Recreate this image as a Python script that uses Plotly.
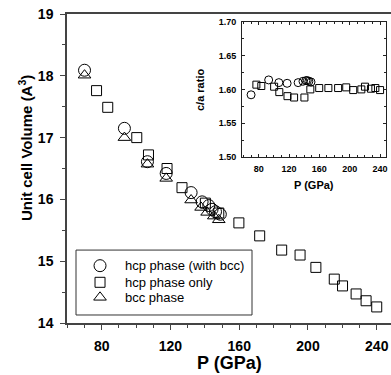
import plotly.graph_objects as go

# ---- data ----
p_hcp_bcc = [70, 93.2, 106.6, 117.5, 132, 138.4, 142.3, 144.2, 146.2, 149]
v_hcp_bcc = [18.09, 17.15, 16.61, 16.42, 16.11, 15.96, 15.90, 15.84, 15.80, 15.76]
ca_hcp_bcc = [1.592, 1.614, 1.610, 1.609, 1.610, 1.612, 1.613, 1.613, 1.612, 1.611]

p_hcp = [77, 83.5, 100.4, 107.2, 118, 126.7, 140.3, 148.1, 159.8, 171.9,
         184.7, 195.4, 204.6, 215.3, 220.1, 228, 233.8, 240]
v_hcp = [17.76, 17.49, 17.00, 16.72, 16.50, 16.19, 15.94, 15.78, 15.62, 15.41,
         15.18, 15.10, 14.90, 14.71, 14.60, 14.47, 14.36, 14.26]
ca_hcp = [1.607, 1.605, 1.604, 1.596, 1.590, 1.588, 1.588, 1.600, 1.602, 1.602,
          1.602, 1.603, 1.599, 1.600, 1.604, 1.601, 1.602, 1.599]

p_bcc = [70, 93.2, 106.6, 117.5, 132, 137.8, 141.3, 145.2, 148.1]
v_bcc = [18.01, 17.00, 16.57, 16.34, 15.99, 15.87, 15.79, 15.73, 15.67]

names = ["hcp phase (with bcc)", "hcp phase only", "bcc phase"]
symbols = ["circle-open", "square-open", "triangle-up-open"]
main_sizes = [12, 10, 11]
x_ticks = [80, 120, 160, 200, 240]

FONT = "Liberation Sans"
AX = "#444444"
mk = dict(color="black", width=1)

fig = go.Figure()
for px_, py_, sym, sz, nm in [(p_hcp_bcc, v_hcp_bcc, symbols[0], main_sizes[0], names[0]),
                              (p_hcp, v_hcp, symbols[1], main_sizes[1], names[1]),
                              (p_bcc, v_bcc, symbols[2], main_sizes[2], names[2])]:
    fig.add_trace(go.Scatter(x=px_, y=py_, mode="markers", name=nm, showlegend=False,
                             marker=dict(symbol=sym, size=sz, color="black", line=mk)))

# inset
fig.add_trace(go.Scatter(x=p_hcp_bcc, y=ca_hcp_bcc, mode="markers", showlegend=False,
                         xaxis="x2", yaxis="y2",
                         marker=dict(symbol="circle-open", size=8, color="black", line=mk)))
fig.add_trace(go.Scatter(x=p_hcp, y=ca_hcp, mode="markers", showlegend=False,
                         xaxis="x2", yaxis="y2",
                         marker=dict(symbol="square-open", size=7, color="black", line=mk)))

# hand-drawn legend (symbols on an invisible overlay axis in paper-like units)
leg_x_sym = 0.1019
leg_x_txt = 0.1719
leg_rows = [0.1855, 0.1317, 0.0831]
for sym, sz, yy in zip(symbols, main_sizes, leg_rows):
    fig.add_trace(go.Scatter(x=[leg_x_sym], y=[yy], mode="markers", showlegend=False,
                             xaxis="x3", yaxis="y3", hoverinfo="skip",
                             marker=dict(symbol=sym, size=sz, color="black", line=mk)))

tickfont = dict(family=FONT, size=14, color="black", weight="bold")
inset_font = dict(family=FONT, size=9, color="black", weight="bold")

annotations = [
    dict(text="P (GPa)", xref="paper", yref="paper", x=0.5, y=-0.1294,
         xanchor="center", yanchor="middle", showarrow=False,
         font=dict(family=FONT, size=18, color="black", weight="bold")),
    dict(text="Unit cell Volume (A<sup>3</sup>)", xref="paper", yref="paper",
         x=-0.1296, y=0.566, xanchor="center", yanchor="middle", textangle=-90,
         showarrow=False, font=dict(family=FONT, size=15, color="black", weight="bold")),
    dict(text="c/a ratio", xref="paper", yref="paper", x=0.4105, y=0.754,
         xanchor="center", yanchor="middle", textangle=-90, showarrow=False,
         font=dict(family=FONT, size=11, color="black", weight="bold")),
    dict(text="P (GPa)", xref="paper", yref="paper", x=0.762, y=0.4466,
         xanchor="center", yanchor="middle", showarrow=False,
         font=dict(family=FONT, size=11, color="black", weight="bold")),
]
for nm, yy in zip(names, leg_rows):
    annotations.append(dict(text=nm, xref="paper", yref="paper", x=leg_x_txt, y=yy,
                            xanchor="left", yanchor="middle", showarrow=False,
                            font=dict(family=FONT, size=13, color="black")))

fig.update_layout(
    width=391, height=375,
    margin=dict(l=67, r=0, t=14, b=52),
    paper_bgcolor="white", plot_bgcolor="white",
    font=dict(family=FONT, color="black"),
    showlegend=False,
    xaxis=dict(range=[59.8, 248.3], tickvals=x_ticks, ticks="outside", ticklen=5,
               tickcolor=AX, showline=True, linecolor=AX, linewidth=1.5, mirror=True,
               showgrid=False, zeroline=False, tickfont=tickfont, ticklabelstandoff=4,
               minor=dict(dtick=10, tick0=0, ticks="outside", ticklen=3, tickcolor=AX)),
    yaxis=dict(range=[14, 19], dtick=1, ticks="outside", ticklen=5, tickcolor=AX,
               showline=True, linecolor=AX, linewidth=1.5,
               showgrid=False, zeroline=False, tickfont=tickfont, ticklabelstandoff=4,
               minor=dict(dtick=0.5, ticks="outside", ticklen=3, tickcolor=AX)),
    xaxis2=dict(domain=[0.540, 0.985], anchor="y2", range=[58, 248], tickvals=x_ticks,
                ticks="inside", ticklen=3, tickcolor="#222", showline=True, linecolor="#222",
                linewidth=1, mirror="allticks", showgrid=False, zeroline=False,
                tickfont=inset_font, ticklabelstandoff=3,
                minor=dict(dtick=10, tick0=0, ticks="inside", ticklen=2, tickcolor="#222")),
    yaxis2=dict(domain=[0.537, 0.975], anchor="x2", range=[1.50, 1.70], dtick=0.05,
                tickformat=".2f", ticks="inside", ticklen=3, tickcolor="#222", showline=True,
                linecolor="#222", linewidth=1, mirror="allticks", showgrid=False,
                zeroline=False, tickfont=inset_font, ticklabelstandoff=3,
                minor=dict(dtick=0.025, ticks="inside", ticklen=2, tickcolor="#222")),
    xaxis3=dict(overlaying="x", range=[0, 1], visible=False, fixedrange=True),
    yaxis3=dict(overlaying="y", range=[0, 1], visible=False, fixedrange=True),
    shapes=[dict(type="rect", xref="paper", yref="paper", x0=0.0278, x1=0.571,
                 y0=0.0259, y1=0.236, line=dict(color="#333", width=1),
                 fillcolor="white", layer="below")],
    annotations=annotations,
)

fig.write_html(
    "out.html",
    config={"displayModeBar": False},
    post_script="document.body.style.margin='0';document.body.style.overflow='hidden';",
)
